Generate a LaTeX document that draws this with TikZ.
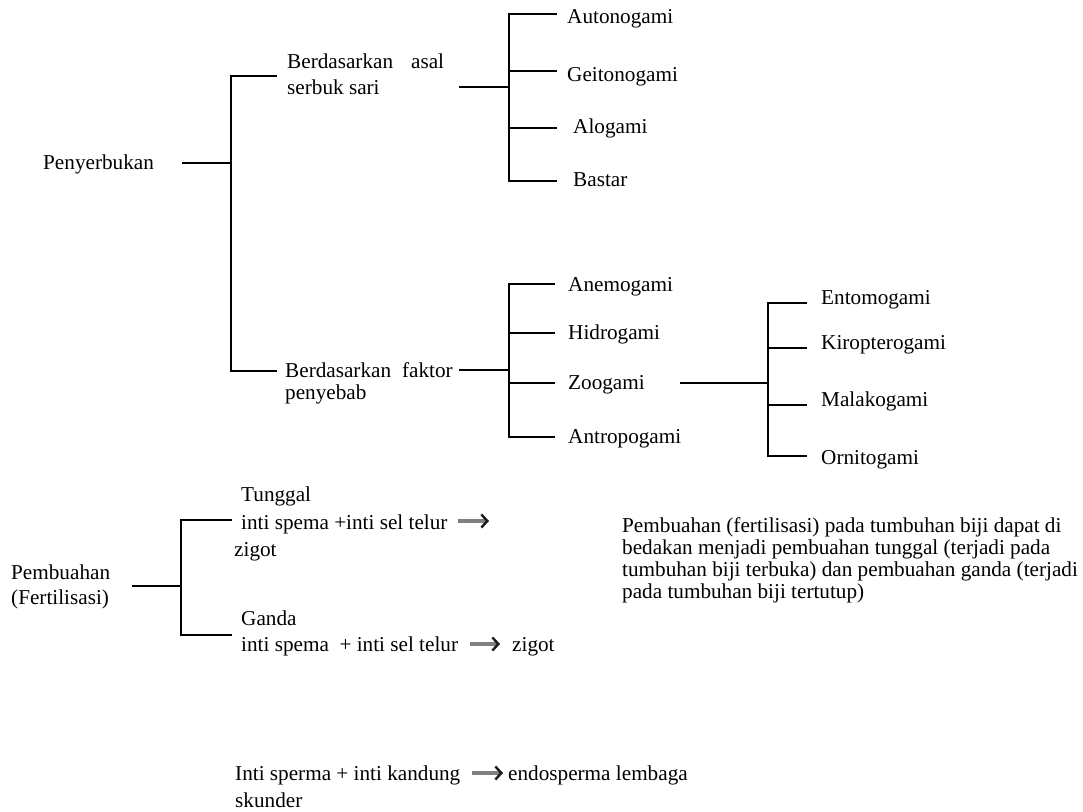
\documentclass[tikz,border=0pt]{standalone}
\usepackage{fontspec}
\setmainfont{Liberation Serif}
\usetikzlibrary{arrows.meta}
\begin{document}
\begin{tikzpicture}[x=1pt,y=-1pt,
  lbl/.style={font=\fontsize{21.2}{25}\selectfont, inner sep=0pt, anchor=base west, align=left},
  link/.style={draw=black, line width=1.6pt},
  reacts/.style={draw=black!50, line width=3.6pt, -{Straight Barb[length=6pt,width=13pt,line width=2.4pt,black!90]}}]
\useasboundingbox (0,0) rectangle (1083,811);

% ---------- Penyerbukan ----------
\node[lbl] (peny) at (43,169) {Penyerbukan};
\node[lbl, font=\fontsize{21.2}{26}\selectfont] (asal) at (287,94) {Berdasarkan\hspace{18pt}asal\\serbuk sari};
\node[lbl, font=\fontsize{21.2}{22}\selectfont] (faktor) at (285,399) {Berdasarkan\hspace{11pt}faktor\\penyebab};

\node[lbl] (auto) at (567,23) {Autonogami};
\node[lbl] (geito) at (567,81) {Geitonogami};
\node[lbl] (alo) at (573,133) {Alogami};
\node[lbl] (bastar) at (573,186) {Bastar};

\node[lbl] (anemo) at (568,291) {Anemogami};
\node[lbl] (hidro) at (568,339) {Hidrogami};
\node[lbl] (zoo) at (568,389) {Zoogami};
\node[lbl] (antro) at (568,443) {Antropogami};

\node[lbl] (ento) at (821,304) {Entomogami};
\node[lbl] (kiro) at (821,349) {Kiropterogami};
\node[lbl] (mala) at (821,406) {Malakogami};
\node[lbl] (orni) at (821,464) {Ornitogami};

% root bracket
\coordinate (p0) at (182,163);
\coordinate (pj) at (231,163);
\coordinate (pt) at (231,76);
\coordinate (pb) at (231,371);
\coordinate (pte) at (277,76);
\coordinate (pbe) at (277,371);
\draw[link] (p0) -- (pj);
\draw[link] (pte) -- (pt) -- (pb) -- (pbe);

% asal serbuk sari bracket
\coordinate (a0) at (459,87);
\coordinate (aj) at (509,87);
\draw[link] (a0) -- (aj);
\draw[link] (557,14) -- (509,14) -- (509,181) -- (557,181);
\draw[link] (509,71) -- (557,71);
\draw[link] (509,128) -- (557,128);

% faktor penyebab bracket
\coordinate (f0) at (459,370);
\coordinate (fj) at (509,370);
\draw[link] (f0) -- (fj);
\draw[link] (555,284) -- (509,284) -- (509,437) -- (555,437);
\draw[link] (509,333) -- (555,333);
\draw[link] (509,383) -- (555,383);

% zoogami bracket
\coordinate (z0) at (680,383);
\coordinate (zj) at (768,383);
\draw[link] (z0) -- (zj);
\draw[link] (807,303) -- (768,303) -- (768,456) -- (807,456);
\draw[link] (768,348) -- (807,348);
\draw[link] (768,405) -- (807,405);

% ---------- Pembuahan ----------
\node[lbl] (pemb) at (11,604) {Pembuahan\\(Fertilisasi)};
\node[lbl] (tunggal) at (241,501) {Tunggal};
\node[lbl] (tr) at (241,529) {inti spema +inti sel telur};
\node[lbl] (tz) at (234,556) {zigot};
\node[lbl] (ganda) at (241,625) {Ganda};
\node[lbl] (gr) at (241,651) {inti spema \ + inti sel telur};
\node[lbl] (gz) at (512,651) {zigot};

\coordinate (b0) at (132,586);
\coordinate (bj) at (181,586);
\draw[link] (b0) -- (bj);
\draw[link] (232,520) -- (181,520) -- (181,635) -- (232,635);

\coordinate (ta1) at (458,521);
\coordinate (ta2) at (489,521);
\draw[reacts] (ta1) -- (ta2);
\coordinate (ga1) at (470,644);
\coordinate (ga2) at (500,644);
\draw[reacts] (ga1) -- (ga2);

\node[lbl, font=\fontsize{21.2}{22}\selectfont] (ket) at (622,598) {Pembuahan (fertilisasi) pada tumbuhan biji dapat di\\
bedakan menjadi pembuahan tunggal (terjadi pada\\
tumbuhan biji terbuka) dan pembuahan ganda (terjadi\\
pada tumbuhan biji tertutup)};

% endosperm line
\node[lbl] (endo) at (235,780) {Inti sperma + inti kandung};
\node[lbl] (endo2) at (508,780) {endosperma lembaga};
\node[lbl] (skunder) at (235,807) {skunder};
\coordinate (ea1) at (472,773);
\coordinate (ea2) at (503,773);
\draw[reacts] (ea1) -- (ea2);
\end{tikzpicture}
\end{document}
